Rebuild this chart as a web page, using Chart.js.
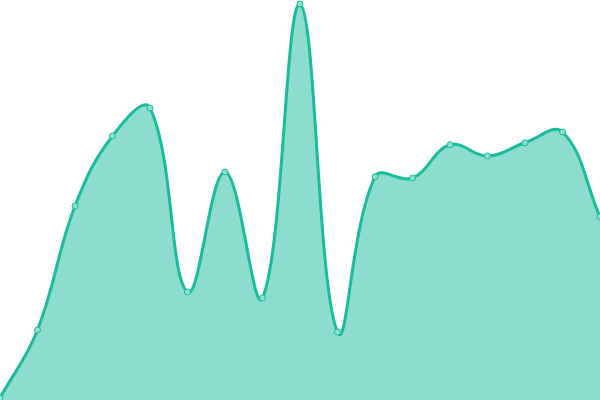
<!DOCTYPE html>
<html>
<head>
<meta charset="utf-8">
<script src="https://cdn.jsdelivr.net/npm/chart.js@4"></script>
<style>
  html, body { margin: 0; padding: 0; background: #fff; }
  #wrap { width: 600px; height: 400px; }
</style>
</head>
<body>
<div id="wrap"><canvas id="areaChart"></canvas></div>
<script>
// values (0..100 scale)
const labels = ['1', '2', '3', '4', '5', '6', '7', '8', '9', '10', '11', '12', '13', '14', '15', '16', '17'];
const values = [0.5, 17.5, 48.5, 66, 73, 27, 57, 25.5, 99, 17, 55.8, 55.5, 63.8, 61, 64.3, 67, 45.8];

const ctx = document.getElementById('areaChart');

new Chart(ctx, {
  type: 'line',
  data: {
    labels: labels,
    datasets: [{
      data: values,
      fill: true,
      borderColor: '#1abc9c',
      backgroundColor: 'rgba(26, 188, 156, 0.5)',
      borderWidth: 3,
      tension: 0.4,
      pointRadius: 3,
      pointBorderWidth: 1,
      pointBackgroundColor: 'rgba(140, 224, 206, 1)',
      pointBorderColor: '#1abc9c'
    }]
  },
  options: {
    responsive: true,
    maintainAspectRatio: false,
    animation: false,
    layout: { padding: 0, autoPadding: false },
    plugins: {
      legend: { display: false },
      tooltip: { enabled: false }
    },
    scales: {
      x: { display: false },
      y: { display: false, min: 0, max: 100 }
    }
  }
});
</script>
</body>
</html>
